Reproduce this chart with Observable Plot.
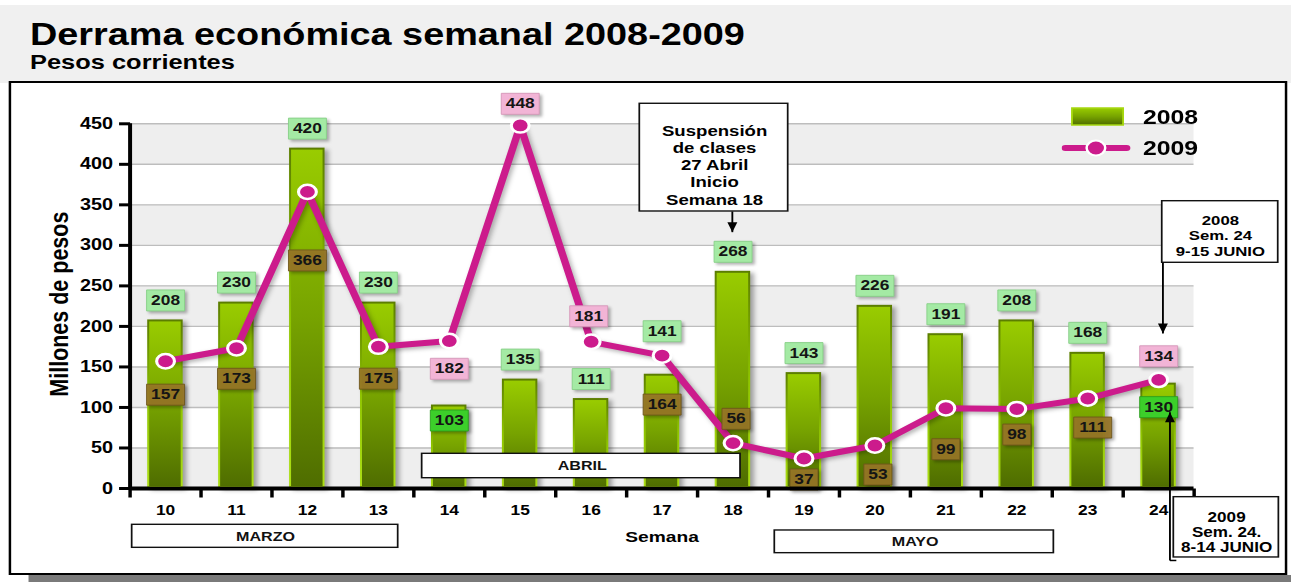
<!DOCTYPE html>
<html>
<head>
<meta charset="utf-8">
<script src="https://cdn.jsdelivr.net/npm/d3@7"></script>
<script src="https://cdn.jsdelivr.net/npm/@observablehq/plot@0.6"></script>
<style>
html, body { margin: 0; padding: 0; background: #fff; width: 1291px; height: 582px; overflow: hidden; }
#stage { position: absolute; left: 0; top: 0; width: 1041px; height: 582px; transform: scaleX(1.24015); transform-origin: 0 0; font-family: "Liberation Sans", Arial, sans-serif; }
#header { position: absolute; left: 0; top: 5px; width: 1041px; height: 78px; background: #f0f0f0; }
#title { position: absolute; left: 24.2px; top: 18.9px; font-size: 30.5px; line-height: 30.5px; font-weight: bold; color: #000; white-space: nowrap; }
#subtitle { position: absolute; left: 24.2px; top: 52.4px; font-size: 20.5px; line-height: 20.5px; font-weight: bold; color: #000; white-space: nowrap; }
#frame { position: absolute; left: 6.6px; top: 81px; width: 1031.5px; height: 494px; border: 2px solid #000; box-sizing: border-box; background: #fff; }
#shadow { position: absolute; left: 22.8px; top: 575px; width: 1019px; height: 7px; background: #7a7a7a; }
#chart { position: absolute; left: 0; top: 84px; }
#legend { position: absolute; left: 0; top: 0; width: 1041px; height: 200px; pointer-events: none; }
g[fill="url(#edgeGrad)"] { filter: drop-shadow(3px 2px 2px rgba(0,0,0,0.35)); }
g[stroke="#cc1b8c"] { filter: drop-shadow(2px 2px 2px rgba(0,0,0,0.3)); }
g[fill="#a4eaa4"], g[fill="#3ccf2a"], g[fill="#977526"], g[fill="#f2b4d6"] { filter: drop-shadow(2px 2px 1.5px rgba(0,0,0,0.3)); }
</style>
</head>
<body>
<svg width="0" height="0" style="position:absolute">
  <defs>
    <linearGradient id="edgeGrad" x1="0" y1="0" x2="0" y2="1">
      <stop offset="0" stop-color="#5b7d00"/>
      <stop offset="0.5" stop-color="#8fc400"/>
      <stop offset="1" stop-color="#acdf14"/>
    </linearGradient>
    <linearGradient id="barGrad" x1="0" y1="0" x2="0" y2="1">
      <stop offset="0" stop-color="#99cc00"/>
      <stop offset="0.5" stop-color="#77a300"/>
      <stop offset="1" stop-color="#4f6d00"/>
    </linearGradient>
  </defs>
</svg>
<div id="stage">
  <div id="header"></div>
  <div id="title">Derrama económica semanal 2008-2009</div>
  <div id="subtitle">Pesos corrientes</div>
  <div id="frame"></div>
  <div id="shadow"></div>
  <div id="chart"></div>
  <svg id="legend" width="1041" height="200">
    <rect x="864.4" y="108" width="41.2" height="17" fill="url(#barGrad)" stroke="#a6d80f" stroke-width="1.5"/>
    <text x="921.6" y="117" dy="0.35em" font-size="20" font-weight="bold" fill="#000">2008</text>
    <line x1="859" y1="148" x2="908.5" y2="148" stroke="#cc1b8c" stroke-width="6" stroke-linecap="round"/>
    <circle cx="883.7" cy="148" r="7.5" fill="#cc1b8c" stroke="#fff" stroke-width="2"/>
    <text x="921.6" y="148" dy="0.35em" font-size="20" font-weight="bold" fill="#000">2009</text>
  </svg>
</div>
<script>
// ---- data ----
const weeks = [10, 11, 12, 13, 14, 15, 16, 17, 18, 19, 20, 21, 22, 23, 24];
const values2008 = [208, 230, 420, 230, 103, 135, 111, 141, 268, 143, 226, 191, 208, 168, 130];
const values2009 = [157, 173, 366, 175, 182, 448, 181, 164, 56, 37, 53, 99, 98, 111, 134];
const yTicks = [0, 50, 100, 150, 200, 250, 300, 350, 400, 450];
const months = ["MARZO", "ABRIL", "MAYO"];
const seriesNames = ["2008", "2009"];

// ---- label layout (pixel offsets) ----
const labelDy2008 = [-19.5, -19.5, -19.5, -19.5, 15.5, -19.5, -19.5, -43, -19.5, -19.5, -19.5, -19.5, -19.5, -19.5, 24];
const labelKind2008 = ["out","out","out","out","in","out","out","out","out","out","out","out","out","out","in"];
const labelDy2009 = [33.4, 30.5, 68.6, 32, 27.8, -21.6, -25.5, 49, -24.3, 21, 29, 41, 25.5, 29, -23.6];
const labelDx2009 = [0, 0, 0, 0, 0, 0, -2, 0, 2.4, 0, 2.4, 0, 0, 4, 0];
const labelKind2009 = ["brown","brown","brown","brown","pink","pink","pink","brown","brown","brown","brown","brown","brown","brown","pink"];

const data = weeks.map((w, i) => ({week: w, v2008: values2008[i], v2009: values2009[i]}));

const boxSym = (w, h) => ({draw(ctx) { ctx.rect(-w / 2, -h / 2, w, h); }});
const hTick = {draw(ctx) { ctx.moveTo(0, 0); ctx.lineTo(-8.9, 0); }};
const vTick = {draw(ctx) { ctx.moveTo(0, 0); ctx.lineTo(0, 9); }};
const triDown = {draw(ctx) { ctx.moveTo(0, 0); ctx.lineTo(-4, -10); ctx.lineTo(4, -10); ctx.closePath(); }};
const triUp = {draw(ctx) { ctx.moveTo(0, 0); ctx.lineTo(-4, 10); ctx.lineTo(4, 10); ctx.closePath(); }};

const xMin = weeks[0] - 0.5, xMax = weeks[weeks.length - 1] + 0.5;
const boundaries = weeks.map(w => w - 0.5).concat([xMax]);
const bandStarts = yTicks.filter((t, i) => i % 2 === 0 && t < yTicks[yTicks.length - 1]);

const colors2008 = {out: ["#a4eaa4", "#86cf86"], in: ["#3ccf2a", "#2a9e1c"]};
const colors2009 = {brown: ["#977526", "#6f561b"], pink: ["#f2b4d6", "#d697b9"]};

const labelMarks = [];
data.forEach((d, i) => {
  const w8 = String(d.v2008).length >= 3 ? 30.6 : 22.6;
  const c8 = colors2008[labelKind2008[i]];
  labelMarks.push(Plot.dot([d], {x: "week", y: "v2008", symbol: boxSym(w8, 21), fill: c8[0], stroke: c8[1], strokeWidth: 0.8, dy: labelDy2008[i]}));
  labelMarks.push(Plot.text([d], {x: "week", y: "v2008", text: r => String(r.v2008), dy: labelDy2008[i], fontSize: 14, fontWeight: "bold", fill: "#151515"}));
});
data.forEach((d, i) => {
  const w9 = String(d.v2009).length >= 3 ? 30.6 : 22.6;
  const c9 = colors2009[labelKind2009[i]];
  labelMarks.push(Plot.dot([d], {x: "week", y: "v2009", symbol: boxSym(w9, 21), fill: c9[0], fillOpacity: labelKind2009[i] === "brown" ? 0.93 : 1, stroke: c9[1], strokeWidth: 0.8, dx: labelDx2009[i], dy: labelDy2009[i]}));
  labelMarks.push(Plot.text([d], {x: "week", y: "v2009", text: r => String(r.v2009), dx: labelDx2009[i], dy: labelDy2009[i], fontSize: 14, fontWeight: "bold", fill: "#151515"}));
});

// annotation boxes (data coordinates)
const monthBoxes = [
  {label: months[0], x1: 9.531, x2: 13.281, y1: -44.8, y2: -73.2, tx: 11.41, ty: -59.2},
  {label: months[1], x1: 13.619, x2: 18.107, y1: 42.8, y2: 12.7, tx: 15.875, ty: 27.8},
  {label: months[2], x1: 18.59, x2: 22.524, y1: -51.8, y2: -79.8, tx: 20.567, ty: -65.8}
];
const notes = [
  {text: "Suspensión\nde clases\n27 Abril\nInicio\nSemana 18", x1: 16.687, x2: 18.779, y1: 474.7, y2: 341.8, tx: 17.74, ty: 399.8},
  {text: "2008\nSem. 24\n9-15 JUNIO", x1: 24.052, x2: 25.687, y1: 354.5, y2: 278.5, tx: 24.87, ty: 312.2},
  {text: "2009\nSem. 24.\n8-14 JUNIO", x1: 24.215, x2: 25.696, y1: -10.7, y2: -85.1, tx: 24.958, ty: -53.9}
];
const arrowsDown = [
  {x: 17.99, y1: 341.8, y2: 316.3},
  {x: 24.06, y1: 278.5, y2: 191.3}
];
const arrowsUp = [
  {x: 24.159, y1: -88.8, y2: 94.2}
];

const plot = Plot.plot({
  width: 1041,
  height: 489,
  marginLeft: 104.4,
  marginRight: 78.6,
  marginTop: 39.3,
  marginBottom: 85,
  x: {type: "linear", domain: [xMin, xMax], axis: null},
  y: {type: "linear", domain: [0, 450], axis: null},
  style: {fontFamily: "'Liberation Sans', Arial, sans-serif", background: "transparent", overflow: "visible", color: "#000"},
  marks: [
    // background bands & grid
    Plot.rect(bandStarts, {x1: xMin, x2: xMax, y1: d => d, y2: d => d + 50, fill: "#eeeeee"}),
    Plot.ruleY(yTicks.slice(1), {x1: xMin, x2: xMax, stroke: "#bdbdbd", strokeWidth: 1.4}),
    // month boxes below axis
    Plot.rect([monthBoxes[0], monthBoxes[2]], {x1: "x1", x2: "x2", y1: "y1", y2: "y2", fill: "white", stroke: "#111", strokeWidth: 1.4}),
    Plot.text([monthBoxes[0], monthBoxes[2]], {x: "tx", y: "ty", text: "label", fontSize: 13, fontWeight: "bold", fill: "#111"}),
    // bars 2008
    Plot.rectY(data, {x1: d => d.week - 0.5, x2: d => d.week + 0.5, y: "v2008", insetLeft: 14.3, insetRight: 14.3, fill: "url(#edgeGrad)"}),
    Plot.rectY(data, {x1: d => d.week - 0.5, x2: d => d.week + 0.5, y: "v2008", insetLeft: 15.9, insetRight: 15.9, insetTop: 2, insetBottom: 2, fill: "url(#barGrad)"}),
    // ABRIL box over bars
    Plot.rect([monthBoxes[1]], {x1: "x1", x2: "x2", y1: "y1", y2: "y2", fill: "white", stroke: "#111", strokeWidth: 1.4}),
    Plot.text([monthBoxes[1]], {x: "tx", y: "ty", text: "label", fontSize: 13, fontWeight: "bold", fill: "#111"}),
    // line 2009
    Plot.line(data, {x: "week", y: "v2009", stroke: "#cc1b8c", strokeWidth: 6, strokeLinejoin: "round"}),
    Plot.dot(data, {x: "week", y: "v2009", r: 7.2, fill: "#cc1b8c", stroke: "white", strokeWidth: 2.5}),
    // value labels
    ...labelMarks,
    // axes
    Plot.ruleY([0], {x1: xMin, x2: xMax, stroke: "#000", strokeWidth: 4.2}),
    Plot.ruleX([xMin], {y1: 0, y2: 450, stroke: "#000", strokeWidth: 3.2}),
    Plot.dot(yTicks, {x: xMin, y: d => d, symbol: hTick, fill: "none", stroke: "#000", strokeWidth: 3}),
    Plot.dot(boundaries, {x: d => d, y: 0, symbol: vTick, fill: "none", stroke: "#000", strokeWidth: 2.8}),
    Plot.text(yTicks, {x: xMin, y: d => d, text: d => String(d), textAnchor: "end", dx: -13.7, fontSize: 16, fontWeight: "bold", fill: "#000"}),
    Plot.text(weeks, {x: d => d, y: 0, text: d => String(d), dy: 22, fontSize: 14, fontWeight: "bold", fill: "#000"}),
    Plot.text(["Semana"], {x: 17.0, y: -60.5, fontSize: 15.5, fontWeight: "bold", fill: "#000"}),
    Plot.text(["Millones de pesos"], {frameAnchor: "left", textAnchor: "middle", dx: -56.8, dy: -2, rotate: -90, fontSize: 21.5, fontWeight: "bold", fill: "#000"}),
    // annotations
    Plot.rect(notes, {x1: "x1", x2: "x2", y1: "y1", y2: "y2", fill: "white", stroke: "#111", strokeWidth: 1.4}),
    Plot.text(notes.slice(0, 1), {x: "tx", y: "ty", text: "text", fontSize: 15, lineHeight: 1.15, fontWeight: "bold", fill: "#000"}),
    Plot.text(notes.slice(1, 2), {x: "tx", y: "ty", text: "text", fontSize: 13.5, lineHeight: 1.13, fontWeight: "bold", fill: "#000"}),
    Plot.text(notes.slice(2, 3), {x: "tx", y: "ty", text: "text", fontSize: 13.8, lineHeight: 1.11, fontWeight: "bold", fill: "#000"}),
    Plot.link(arrowsDown, {x1: "x", x2: "x", y1: "y1", y2: "y2", stroke: "#000", strokeWidth: 1.5}),
    Plot.dot(arrowsDown, {x: "x", y: "y2", symbol: triDown, fill: "#000", stroke: "none"}),
    Plot.link(arrowsUp, {x1: "x", x2: "x", y1: "y1", y2: "y2", stroke: "#000", strokeWidth: 1.5}),
    Plot.link(arrowsUp, {x1: "x", x2: d => d.x + 0.09, y1: "y1", y2: "y1", stroke: "#000", strokeWidth: 1.5}),
    Plot.dot(arrowsUp, {x: "x", y: "y2", symbol: triUp, fill: "#000", stroke: "none"})
  ]
});
document.getElementById("chart").appendChild(plot);
</script>
</body>
</html>
